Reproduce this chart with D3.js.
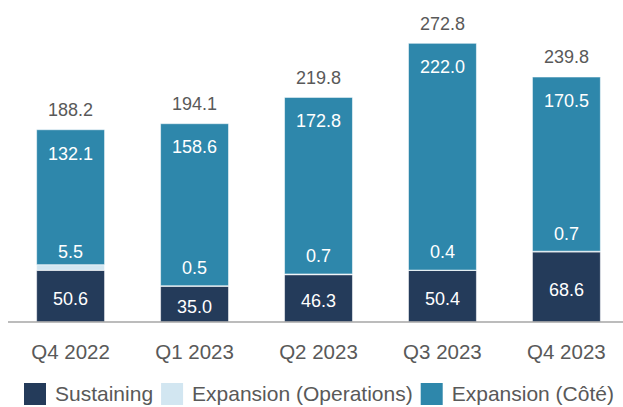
<!DOCTYPE html>
<html>
<head>
<meta charset="utf-8">
<script src="https://cdn.jsdelivr.net/npm/d3@7"></script>
<style>
  body { margin: 0; background: #fff; }
  svg { display: block; font-family: "Liberation Sans", Arial, sans-serif; }
</style>
</head>
<body>
<div id="chart"></div>
<script>
// values
const quarters = ["Q4 2022", "Q1 2023", "Q2 2023", "Q3 2023", "Q4 2023"];
const sustaining = [50.6, 35.0, 46.3, 50.4, 68.6];
const expansionOps = [5.5, 0.5, 0.7, 0.4, 0.7];
const expansionCote = [132.1, 158.6, 172.8, 222.0, 170.5];
const totals = [188.2, 194.1, 219.8, 272.8, 239.8];
const seriesNames = ["Sustaining", "Expansion (Operations)", "Expansion (Côté)"];

const width = 623, height = 407;
const colors = ["#243b5a", "#d2e6f1", "#2e87ab"];
const textGrey = "#595959";

const data = quarters.map((q, i) => ({
    q: q,
    s: sustaining[i],
    o: expansionOps[i],
    c: expansionCote[i],
    total: totals[i]
}));

const svg = d3.select("#chart")
    .append("svg")
    .attr("width", width)
    .attr("height", height);

const xScale = d3.scaleBand()
    .domain(quarters)
    .range([8, 629])
    .paddingInner(0.452)
    .paddingOuter(0.231);

const yScale = d3.scaleLinear()
    .domain([0, 300])
    .range([322, 15.5]);

const stack = d3.stack().keys(["s", "o", "c"]);
const layers = stack(data);

// stacked bars
svg.selectAll("g.layer")
    .data(layers)
    .enter()
    .append("g")
    .attr("class", "layer")
    .attr("fill", (d, i) => colors[i])
    .selectAll("rect")
    .data(d => d)
    .enter()
    .append("rect")
    .attr("x", d => xScale(d.data.q))
    .attr("y", d => yScale(d[1]))
    .attr("width", xScale.bandwidth())
    .attr("height", d => yScale(d[0]) - yScale(d[1]))
    .attr("stroke", "rgba(255,255,255,0.55)")
    .attr("stroke-width", 1);

// baseline
svg.append("line")
    .attr("x1", 8)
    .attr("x2", width)
    .attr("y1", yScale(0))
    .attr("y2", yScale(0))
    .attr("stroke", "#a6a6a6")
    .attr("stroke-width", 1.5);

const cx = d => xScale(d.q) + xScale.bandwidth() / 2;

// totals above bars
svg.selectAll("text.total")
    .data(data)
    .enter()
    .append("text")
    .attr("class", "total")
    .attr("x", cx)
    .attr("y", d => yScale(d.total) - 20)
    .attr("dy", "0.35em")
    .attr("text-anchor", "middle")
    .attr("font-size", "18px")
    .attr("fill", textGrey)
    .text(d => d.total.toFixed(1));

// Côté labels, near top of bar
svg.selectAll("text.cote")
    .data(data)
    .enter()
    .append("text")
    .attr("class", "cote")
    .attr("x", cx)
    .attr("y", d => yScale(d.total) + 23.5)
    .attr("dy", "0.35em")
    .attr("text-anchor", "middle")
    .attr("font-size", "18px")
    .attr("fill", "#fff")
    .text(d => d.c.toFixed(1));

// operations labels, just above the sustaining segment
svg.selectAll("text.ops")
    .data(data)
    .enter()
    .append("text")
    .attr("class", "ops")
    .attr("x", cx)
    .attr("y", d => yScale(d.s) - 18.5)
    .attr("dy", "0.35em")
    .attr("text-anchor", "middle")
    .attr("font-size", "18px")
    .attr("fill", "#fff")
    .text(d => d.o.toFixed(1));

// sustaining labels, middle of segment
svg.selectAll("text.sust")
    .data(data)
    .enter()
    .append("text")
    .attr("class", "sust")
    .attr("x", cx)
    .attr("y", d => (yScale(0) + yScale(d.s)) / 2 + 2.5)
    .attr("dy", "0.35em")
    .attr("text-anchor", "middle")
    .attr("font-size", "18px")
    .attr("fill", "#fff")
    .text(d => d.s.toFixed(1));

// category axis
const xAxis = svg.append("g")
    .attr("transform", `translate(0,${yScale(0)})`)
    .call(d3.axisBottom(xScale).tickSize(0).tickPadding(22));
xAxis.select(".domain").remove();
xAxis.selectAll("text")
    .attr("font-size", "20.5px")
    .attr("font-family", "Liberation Sans, Arial, sans-serif")
    .attr("fill", textGrey)
    .attr("dy", "0.71em");

// legend
const legend = svg.append("g").attr("transform", "translate(24,383)");
let lx = 0;
seriesNames.forEach((name, i) => {
    const item = legend.append("g").attr("transform", `translate(${lx},0)`);
    item.append("rect")
        .attr("width", 22)
        .attr("height", 22)
        .attr("fill", colors[i]);
    const t = item.append("text")
        .attr("x", 31)
        .attr("y", 11)
        .attr("dy", "0.35em")
        .attr("font-size", "21px")
        .attr("fill", textGrey)
        .text(name);
    lx += 31 + t.node().getComputedTextLength() + 8;
});
</script>
</body>
</html>
